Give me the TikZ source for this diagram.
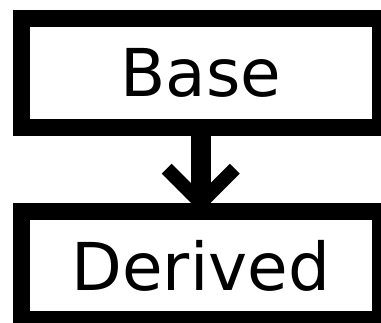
\documentclass[tikz,border=0pt]{standalone}
\usepackage{fontspec}
\setmainfont{DejaVu Sans}
\begin{document}
\begin{tikzpicture}[x=1pt,y=1pt,
  classbox/.style={draw=black, line width=17pt, fill=white, rectangle, inner sep=0pt,
    minimum width=359.5pt, minimum height=108.5pt,
    font=\fontsize{66}{70}\selectfont},
  shaft/.style={line width=20pt, line cap=butt},
  barb/.style={line width=14pt, line cap=butt, line join=miter}]
\useasboundingbox (0,0) rectangle (381,-323);
\fill[white] (0,0) rectangle (381,-323);
\node[classbox] (base) at (200.75,-73.25) {Base};
\node[classbox] (derived) at (200.75,-265.5) {Derived};
\coordinate (tipL) at ([shift={(-34,34)}]derived.north);
\coordinate (tipR) at ([shift={(34,34)}]derived.north);
\draw[shaft] (base.south) -- (derived.north);
\draw[barb] (tipL) -- (derived.north) -- (tipR);
\end{tikzpicture}
\end{document}
